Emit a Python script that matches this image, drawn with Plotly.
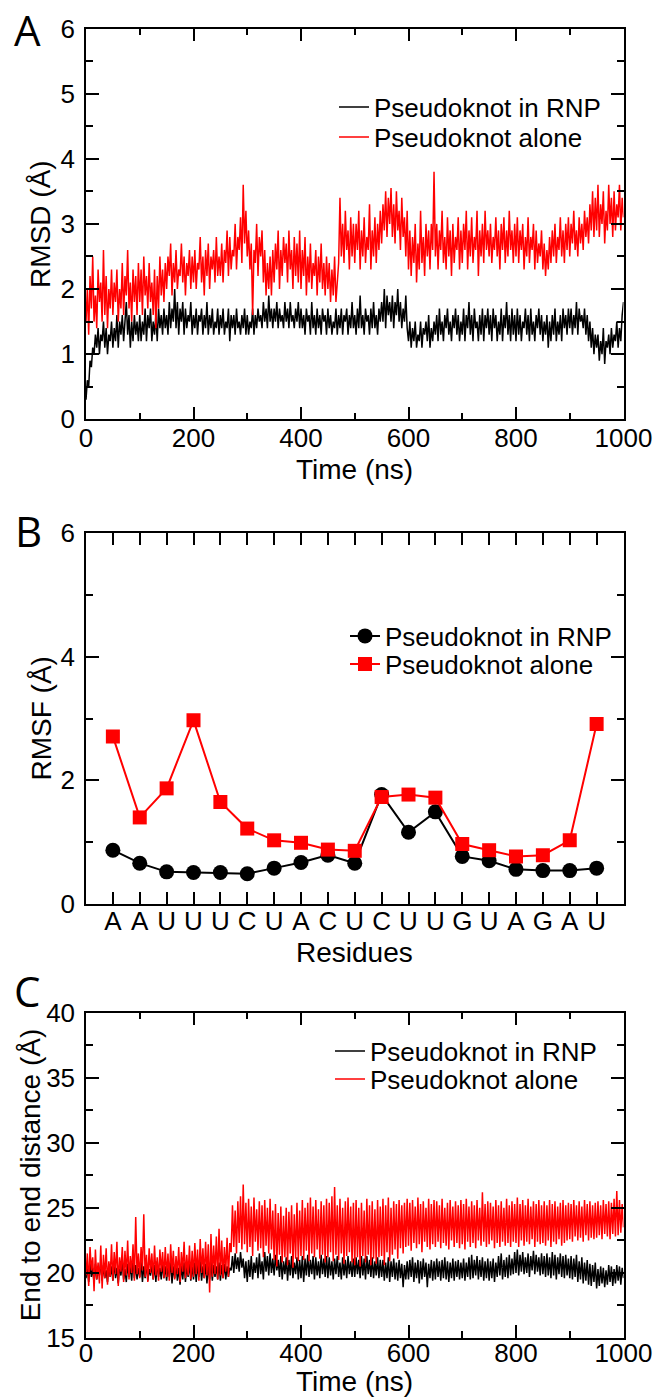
import plotly.graph_objects as go

# ---------------- data ----------------
residues = ["A", "A", "U", "U", "U", "C", "U", "A", "C", "U",
            "C", "U", "U", "G", "U", "A", "G", "A", "U"]
residue_index = list(range(1, len(residues) + 1))

rmsf_rnp = [0.87, 0.66, 0.52, 0.51, 0.51, 0.49, 0.58, 0.67, 0.79, 0.66,
            1.77, 1.16, 1.49, 0.77, 0.70, 0.56, 0.54, 0.54, 0.58]
rmsf_alone = [2.71, 1.40, 1.87, 2.97, 1.65, 1.22, 1.03, 0.99, 0.88, 0.86,
              1.73, 1.77, 1.72, 0.97, 0.87, 0.77, 0.79, 1.03, 2.91]

TIME_STEP_NS = 2.5
N_FRAMES = 401
time_ns = [i * TIME_STEP_NS for i in range(N_FRAMES)]

rmsd_alone = [
    1.5, 2.0, 1.3, 2.2, 1.7, 2.5, 1.5, 1.9, 1.4, 2.3, 1.8, 2.1, 1.5, 2.6, 1.6, 2.2, 1.4, 2.0, 1.7, 2.3,
    1.6, 2.1, 1.8, 2.3, 1.5, 2.0, 1.7, 2.4, 1.6, 2.2, 1.9, 2.6, 1.7, 2.1, 1.5, 2.3, 1.8, 2.2, 1.6, 2.4,
    1.8, 2.3, 1.6, 2.5, 1.9, 2.2, 1.7, 2.4, 1.8, 2.1, 1.6, 2.3, 1.4, 2.2, 1.7, 2.5, 1.9, 2.3, 1.8, 2.4,
    2.0, 2.5, 2.2, 2.7, 1.9, 2.4, 2.1, 2.6, 2.0, 2.3, 2.2, 2.7, 2.1, 2.5, 1.9, 2.4, 2.2, 2.6, 2.0, 2.5,
    2.1, 2.6, 2.0, 2.4, 2.3, 2.8, 2.1, 2.5, 1.9, 2.6, 2.2, 2.7, 2.0, 2.5, 2.3, 2.6, 2.1, 2.8, 2.2, 2.5,
    2.2, 2.7, 2.1, 2.6, 2.4, 2.9, 2.2, 2.8, 2.3, 2.6, 2.5, 3.0, 2.3, 2.8, 2.6, 3.1, 2.4, 3.6, 2.7, 3.2,
    2.5, 2.9, 2.3, 2.7, 1.6, 2.6, 2.4, 3.0, 2.2, 2.8, 2.5, 2.9, 2.1, 2.6, 1.9, 2.4, 2.0, 2.5, 1.9, 2.6,
    2.1, 2.7, 2.3, 2.9, 2.0, 2.6, 2.2, 2.8, 2.4, 2.7, 2.1, 2.9, 2.3, 2.6, 2.0, 2.8, 2.2, 2.7, 2.1, 2.9,
    2.0, 2.6, 2.2, 2.8, 1.9, 2.5, 2.1, 2.7, 2.0, 2.4, 2.2, 2.6, 1.9, 2.5, 2.1, 2.7, 2.0, 2.4, 1.9, 2.5,
    2.0, 2.4, 1.8, 2.3, 1.9, 2.5, 1.8, 2.2, 2.4, 3.4, 2.5, 3.0, 2.4, 3.2, 2.6, 2.9, 2.3, 3.1, 2.5, 3.0,
    2.4, 3.0, 2.6, 3.2, 2.3, 2.9, 2.5, 3.1, 2.4, 2.8, 2.6, 3.3, 2.3, 2.9, 2.5, 3.1, 2.4, 3.0, 2.6, 3.2,
    2.7, 3.3, 2.9, 3.5, 2.8, 3.4, 3.0, 3.55, 2.8, 3.3, 2.7, 3.5, 2.9, 3.2, 2.6, 3.4, 2.8, 3.1, 2.5, 3.2,
    2.3, 2.9, 2.2, 2.8, 2.4, 3.0, 2.1, 2.7, 2.3, 3.2, 2.4, 2.8, 2.2, 3.0, 2.5, 2.9, 2.3, 3.0, 2.6, 3.8,
    2.5, 3.0, 2.3, 2.9, 2.6, 3.2, 2.4, 2.8, 2.3, 3.1, 2.5, 2.9, 2.2, 3.0, 2.4, 2.8, 2.6, 3.1, 2.3, 2.9,
    2.4, 3.0, 2.6, 3.2, 2.3, 2.9, 2.5, 3.1, 2.4, 2.8, 2.6, 3.2, 2.2, 2.9, 2.5, 3.0, 2.4, 3.2, 2.6, 2.9,
    2.5, 3.0, 2.4, 2.8, 2.6, 3.1, 2.5, 2.9, 2.3, 3.0, 2.6, 3.1, 2.4, 2.9, 2.5, 3.2, 2.6, 2.9, 2.4, 3.0,
    2.5, 3.1, 2.4, 2.9, 2.6, 3.0, 2.3, 2.8, 2.5, 3.1, 2.4, 2.8, 2.6, 3.0, 2.3, 2.9, 2.4, 2.7, 2.5, 2.9,
    2.3, 2.7, 2.2, 2.6, 2.3, 2.8, 2.4, 2.9, 2.5, 3.0, 2.4, 2.8, 2.6, 3.1, 2.5, 2.9, 2.4, 3.0, 2.6, 3.1,
    2.5, 3.0, 2.7, 3.2, 2.6, 2.9, 2.5, 3.1, 2.7, 3.0, 2.6, 3.2, 2.8, 3.1, 2.7, 3.3, 2.9, 3.5, 2.8, 3.4,
    2.9, 3.6, 2.8, 3.3, 3.0, 3.5, 2.7, 3.2, 2.9, 3.6, 3.0, 3.4, 2.8, 3.5, 2.9, 3.3, 3.1, 3.6, 2.9, 3.4,
    3.1,
]

rmsd_rnp = [
    0.3, 0.6, 0.5, 0.9, 0.8, 1.1, 1.0, 1.3, 1.1, 1.4, 1.0, 1.3, 1.2, 1.5, 1.1, 1.4, 1.0, 1.3, 1.2, 1.5,
    1.1, 1.4, 1.2, 1.6, 1.1, 1.5, 1.3, 1.6, 1.2, 1.5, 1.8, 1.3, 1.6, 1.1, 1.5, 1.2, 1.6, 1.3, 1.5, 1.2,
    1.6, 1.2, 1.5, 1.3, 1.7, 1.2, 1.6, 1.4, 1.7, 1.2, 1.5, 1.3, 1.6, 1.2, 1.7, 1.4, 1.6, 1.3, 1.7, 1.4,
    1.6, 1.3, 1.8, 1.4, 1.7, 1.5, 2.0, 1.4, 1.8, 1.3, 1.7, 1.5, 1.8, 1.3, 1.7, 1.4, 1.6, 1.5, 1.8, 1.3,
    1.6, 1.4, 1.7, 1.3, 1.6, 1.5, 1.7, 1.3, 1.6, 1.4, 1.8, 1.3, 1.6, 1.4, 1.7, 1.3, 1.5, 1.4, 1.7, 1.3,
    1.6, 1.4, 1.7, 1.3, 1.5, 1.4, 1.7, 1.2, 1.6, 1.4, 1.6, 1.3, 1.7, 1.4, 1.5, 1.3, 1.6, 1.4, 1.7, 1.3,
    1.6, 1.3, 1.5, 1.4, 1.7, 1.3, 1.6, 1.4, 1.7, 1.5, 1.6, 1.4, 1.8, 1.5, 1.7, 1.4, 1.9, 1.5, 1.7, 1.4,
    1.7, 1.5, 1.8, 1.4, 1.7, 1.5, 1.6, 1.4, 1.8, 1.5, 1.7, 1.4, 1.8, 1.5, 1.6, 1.4, 1.7, 1.5, 1.8, 1.4,
    1.7, 1.4, 1.6, 1.3, 1.7, 1.5, 1.6, 1.3, 1.8, 1.4, 1.6, 1.3, 1.7, 1.4, 1.6, 1.3, 1.7, 1.5, 1.6, 1.3,
    1.7, 1.4, 1.6, 1.3, 1.5, 1.4, 1.7, 1.3, 1.6, 1.4, 1.7, 1.3, 1.6, 1.5, 1.7, 1.3, 1.6, 1.4, 1.8, 1.4,
    1.6, 1.3, 1.7, 1.4, 1.9, 1.4, 1.6, 1.3, 1.7, 1.5, 1.6, 1.3, 1.7, 1.4, 1.8, 1.4, 1.6, 1.3, 1.7, 1.5,
    1.8, 1.5, 2.0, 1.4, 1.9, 1.6, 1.8, 1.5, 1.9, 1.4, 1.8, 1.6, 2.0, 1.5, 1.8, 1.4, 1.7, 1.5, 1.9, 1.4,
    1.2, 1.5, 1.1, 1.4, 1.2, 1.5, 1.1, 1.3, 1.2, 1.5, 1.1, 1.4, 1.3, 1.5, 1.2, 1.6, 1.1, 1.4, 1.2, 1.5,
    1.3, 1.6, 1.2, 1.7, 1.3, 1.5, 1.2, 1.6, 1.4, 1.7, 1.3, 1.5, 1.2, 1.6, 1.4, 1.7, 1.3, 1.6, 1.2, 1.5,
    1.3, 1.7, 1.2, 1.6, 1.4, 1.8, 1.3, 1.6, 1.2, 1.7, 1.4, 1.5, 1.2, 1.6, 1.3, 1.7, 1.2, 1.6, 1.4, 1.7,
    1.3, 1.6, 1.2, 1.7, 1.4, 1.6, 1.2, 1.5, 1.3, 1.7, 1.2, 1.6, 1.4, 1.8, 1.3, 1.6, 1.2, 1.7, 1.3, 1.6,
    1.2, 1.7, 1.3, 1.6, 1.2, 1.5, 1.4, 1.7, 1.3, 1.6, 1.2, 1.7, 1.3, 1.5, 1.2, 1.6, 1.4, 1.7, 1.3, 1.6,
    1.2, 1.5, 1.3, 1.6, 1.1, 1.5, 1.2, 1.6, 1.3, 1.7, 1.2, 1.5, 1.3, 1.6, 1.2, 1.7, 1.4, 1.6, 1.3, 1.7,
    1.4, 1.7, 1.3, 1.6, 1.4, 1.8, 1.3, 1.7, 1.5, 1.6, 1.4, 1.7, 1.3, 1.6, 1.2, 1.5, 1.1, 1.4, 1.0, 1.3,
    1.1, 1.3, 0.9, 1.2, 1.0, 1.4, 0.85, 1.2, 1.1, 1.3, 1.0, 1.4, 1.1, 1.3, 1.2, 1.5, 1.1, 1.4, 1.2, 1.6,
    1.8,
]

e2e_alone = [
    19.8, 21.5, 19.0, 22.0, 20.2, 21.2, 18.6, 21.8, 19.5, 20.8, 19.2, 22.1, 18.8, 21.4, 19.6, 21.9, 19.1, 20.9, 19.7, 22.2,
    19.4, 21.6, 19.9, 22.4, 19.0, 21.2, 20.1, 22.0, 19.3, 21.7, 19.8, 22.5, 19.5, 21.3, 20.0, 22.2, 19.4, 24.3, 19.9, 21.5,
    19.6, 22.0, 20.2, 24.5, 19.7, 21.4, 19.3, 21.9, 20.0, 21.5, 19.5, 22.1, 19.8, 21.2, 19.4, 21.8, 20.1, 21.6, 19.6, 22.0,
    19.7, 21.5, 19.4, 22.2, 20.0, 21.7, 19.5, 21.3, 19.9, 22.0, 19.3, 21.6, 20.1, 22.4, 19.6, 21.4, 19.8, 22.1, 19.5, 21.7,
    19.7, 22.3, 19.9, 21.8, 19.4, 22.6, 20.0, 21.9, 19.6, 22.4, 19.8, 22.2, 18.5, 23.0, 19.7, 22.1, 19.9, 22.8, 19.5, 23.4,
    19.8, 22.5, 19.6, 22.0, 20.1, 22.7, 19.7, 22.3, 21.6, 25.2, 22.0, 24.8, 21.5, 25.5, 22.3, 25.9, 21.8, 26.8, 22.2, 25.4,
    21.6, 25.7, 22.0, 25.1, 21.3, 25.8, 22.4, 24.9, 21.7, 25.5, 21.9, 25.2, 21.2, 25.6, 22.1, 25.0, 21.5, 25.7, 21.8, 24.8,
    21.0, 25.3, 20.5, 24.6, 21.4, 25.1, 20.8, 24.4, 21.2, 25.0, 20.6, 24.7, 21.5, 25.2, 20.4, 24.5, 21.1, 25.4, 20.9, 24.8,
    21.3, 25.6, 21.0, 25.0, 21.7, 25.4, 20.9, 25.8, 21.5, 25.1, 21.2, 25.6, 21.8, 24.9, 21.1, 25.5, 21.4, 25.2, 20.8, 25.7,
    21.2, 25.4, 21.6, 25.9, 20.9, 26.6, 21.4, 25.2, 21.0, 25.7, 21.5, 25.0, 20.7, 25.5, 21.3, 25.8, 21.6, 25.1, 20.8, 25.4,
    20.6, 25.6, 21.2, 25.0, 20.5, 25.4, 21.3, 24.8, 20.8, 25.7, 21.4, 25.2, 20.6, 25.5, 21.1, 24.9, 20.7, 25.6, 21.2, 25.1,
    21.3, 25.7, 20.6, 25.2, 21.6, 25.8, 20.9, 25.0, 21.4, 25.5, 21.8, 25.3, 21.1, 25.6, 21.9, 25.2, 21.5, 25.4, 22.0, 25.7,
    22.1, 25.4, 21.7, 25.6, 22.3, 25.1, 21.9, 25.8, 22.2, 25.3, 21.6, 25.5, 22.4, 25.0, 22.0, 25.7, 21.8, 25.3, 22.2, 25.6,
    22.0, 25.5, 22.4, 25.2, 21.9, 25.7, 22.3, 25.0, 22.1, 25.4, 21.8, 25.6, 22.5, 25.1, 22.0, 25.5, 22.3, 25.2, 21.9, 25.6,
    22.2, 25.3, 21.8, 25.7, 22.4, 25.1, 22.0, 25.5, 22.3, 25.2, 21.9, 25.6, 22.5, 25.0, 22.1, 26.2, 22.4, 25.3, 22.0, 25.5,
    22.2, 25.4, 22.5, 25.1, 21.9, 25.6, 22.3, 25.2, 22.0, 25.5, 22.4, 25.0, 22.1, 25.7, 22.3, 25.2, 22.0, 25.5, 22.4, 25.3,
    22.3, 25.8, 22.0, 25.3, 22.5, 25.6, 22.1, 25.2, 22.4, 25.7, 22.2, 25.1, 22.6, 25.5, 22.0, 25.3, 22.4, 25.6, 22.2, 25.2,
    22.3, 25.5, 22.1, 25.2, 22.5, 25.6, 22.0, 25.3, 22.4, 25.5, 22.2, 25.1, 22.6, 25.4, 22.1, 25.6, 22.3, 25.2, 22.5, 25.4,
    22.6, 25.3, 22.4, 25.6, 22.8, 25.2, 22.5, 25.5, 22.7, 25.1, 22.4, 25.6, 22.9, 25.3, 22.5, 25.5, 22.7, 25.2, 22.6, 25.4,
    22.7, 25.5, 22.9, 25.2, 22.6, 25.6, 23.0, 25.3, 22.8, 25.5, 22.6, 25.4, 23.0, 25.7, 22.8, 26.3, 22.9, 25.6, 23.1, 25.3,
    23.5,
]

e2e_rnp = [
    19.6, 20.5, 19.3, 20.8, 19.7, 20.4, 19.2, 20.7, 19.5, 20.3, 19.8, 20.9, 19.4, 20.6, 19.6, 20.2, 19.3, 20.7, 19.7, 20.5,
    19.4, 20.8, 19.6, 20.4, 19.2, 20.6, 19.8, 21.0, 19.5, 20.3, 19.3, 20.7, 19.7, 20.5, 19.4, 21.1, 19.6, 20.6, 19.5, 20.4,
    19.7, 20.9, 19.3, 20.5, 19.6, 20.8, 19.4, 20.3, 19.8, 20.7, 19.5, 20.6, 19.3, 20.9, 19.7, 20.4, 19.5, 20.7, 19.6, 20.5,
    19.4, 20.6, 19.7, 20.9, 19.2, 20.5, 19.6, 20.8, 19.4, 20.4, 19.1, 20.6, 19.5, 20.8, 19.3, 20.5, 19.7, 20.7, 19.4, 20.6,
    19.5, 20.8, 19.3, 20.6, 19.7, 20.9, 19.4, 20.5, 19.6, 20.7, 19.2, 20.6, 19.5, 20.9, 19.4, 20.6, 19.7, 20.5, 19.5, 20.8,
    19.4, 20.6, 19.6, 20.7, 19.5, 20.5, 19.7, 20.4, 20.2, 21.3, 20.0, 21.5, 20.3, 21.2, 20.1, 21.6, 20.4, 21.1, 19.6, 20.9,
    19.3, 21.0, 19.7, 21.3, 19.5, 20.8, 20.0, 21.2, 19.6, 21.5, 19.9, 20.9, 19.5, 21.6, 20.1, 21.3, 19.8, 21.5, 20.0, 21.1,
    19.8, 21.4, 20.2, 21.0, 19.7, 21.3, 19.5, 20.9, 19.9, 21.2, 19.4, 21.0, 19.8, 21.3, 19.6, 20.8, 19.9, 21.2, 19.5, 21.0,
    19.6, 21.3, 19.3, 21.1, 19.8, 21.4, 19.7, 21.0, 19.9, 21.3, 19.5, 21.2, 19.8, 20.9, 19.6, 21.4, 19.9, 21.1, 19.7, 21.3,
    19.6, 21.2, 19.8, 20.9, 19.5, 21.1, 19.9, 21.3, 19.7, 20.8, 19.5, 21.2, 19.8, 21.0, 19.6, 21.3, 19.9, 20.9, 19.7, 21.1,
    19.7, 21.2, 19.9, 21.0, 19.6, 21.3, 19.8, 21.1, 19.5, 21.3, 19.9, 21.0, 19.7, 21.2, 19.6, 20.9, 19.8, 21.2, 19.6, 21.0,
    19.7, 21.0, 19.4, 20.8, 19.6, 21.2, 19.3, 20.9, 19.7, 21.1, 19.5, 20.8, 19.4, 21.0, 19.6, 20.7, 18.9, 20.6, 19.5, 20.9,
    19.5, 21.0, 19.7, 21.2, 19.3, 20.8, 19.6, 21.0, 19.2, 20.9, 19.5, 21.1, 19.7, 20.8, 18.9, 20.7, 19.6, 21.0, 19.4, 20.9,
    19.5, 21.1, 19.7, 20.9, 19.4, 21.0, 19.6, 21.2, 19.5, 20.9, 19.3, 20.8, 19.6, 21.1, 19.4, 20.9, 19.7, 21.0, 19.5, 20.8,
    19.6, 21.1, 19.4, 20.8, 19.7, 21.2, 19.5, 21.4, 19.6, 21.0, 19.8, 21.3, 19.5, 21.0, 19.7, 21.2, 19.4, 20.9, 19.6, 21.1,
    19.4, 20.9, 19.6, 21.1, 19.3, 20.8, 19.7, 21.3, 19.8, 21.5, 19.5, 21.0, 19.7, 21.2, 19.6, 21.4, 19.8, 21.1, 19.9, 21.6,
    20.0, 21.8, 19.8, 21.4, 20.1, 21.6, 19.9, 21.2, 20.0, 21.5, 19.7, 21.3, 20.2, 21.7, 19.9, 21.4, 20.1, 21.2, 19.8, 21.5,
    19.9, 21.3, 19.7, 21.5, 19.8, 21.2, 19.6, 21.6, 19.8, 21.4, 19.5, 21.2, 19.9, 21.5, 19.7, 21.3, 19.6, 21.4, 19.8, 21.1,
    19.6, 21.3, 19.5, 21.1, 19.7, 21.4, 19.3, 20.9, 19.5, 21.2, 19.2, 20.8, 19.4, 21.0, 19.1, 20.7, 19.0, 20.6, 19.3, 20.8,
    18.8, 20.3, 19.0, 20.5, 19.2, 20.4, 18.9, 20.2, 19.1, 20.6, 19.3, 20.5, 19.0, 20.3, 19.2, 20.6, 19.4, 20.5, 19.1, 20.4,
    19.6,
]

for _s in (rmsd_alone, rmsd_rnp, e2e_alone, e2e_rnp):
    assert len(_s) == N_FRAMES, len(_s)

# ---------------- layout helpers ----------------
W, H = 657, 1399
FONT = "Liberation Sans, Arial, sans-serif"
TICK_FONT = dict(family=FONT, size=26, color="black")
TITLE_FONT = dict(family=FONT, size=28, color="black")
LEG_FONT = dict(family=FONT, size=26, color="black")
LETTER_FONT = dict(family="Open Sans", size=42, color="black")


def fx(p):
    return p / W


def fy(p):
    return 1 - p / H


X_DOM = [fx(86), fx(623.5)]
A_DOM = [fy(419.3), fy(28.5)]
B_DOM = [fy(904), fy(533)]
C_DOM = [fy(1338), fy(1012.7)]

axis_common = dict(
    showline=True, linecolor="black", linewidth=1.5, mirror="ticks",
    ticks="inside", tickcolor="black", tickwidth=1.5, ticklen=13,
    showgrid=False, zeroline=False, tickfont=TICK_FONT, automargin=False,
)


def minor(dt):
    return dict(dtick=dt, ticks="inside", ticklen=7, tickcolor="black",
                tickwidth=1.5, showgrid=False)


LW = 1.5
fig = go.Figure()

# Panel A
fig.add_trace(go.Scatter(x=time_ns, y=rmsd_rnp, mode="lines", name="Pseudoknot in RNP",
                         line=dict(color="black", width=LW), xaxis="x", yaxis="y",
                         legend="legend", showlegend=True))
fig.add_trace(go.Scatter(x=time_ns, y=rmsd_alone, mode="lines", name="Pseudoknot alone",
                         line=dict(color="#ff0000", width=LW), xaxis="x", yaxis="y",
                         legend="legend2", showlegend=True))
# Panel B
fig.add_trace(go.Scatter(x=residue_index, y=rmsf_rnp, mode="lines+markers",
                         name="Pseudoknot in RNP",
                         line=dict(color="black", width=2),
                         marker=dict(symbol="circle", size=15, color="black"),
                         xaxis="x2", yaxis="y2", legend="legend3", showlegend=True))
fig.add_trace(go.Scatter(x=residue_index, y=rmsf_alone, mode="lines+markers",
                         name="Pseudoknot alone",
                         line=dict(color="#ff0000", width=2),
                         marker=dict(symbol="square", size=14, color="#ff0000"),
                         xaxis="x2", yaxis="y2", legend="legend4", showlegend=True))
# Panel C
fig.add_trace(go.Scatter(x=time_ns, y=e2e_rnp, mode="lines", name="Pseudoknot in RNP",
                         line=dict(color="black", width=LW), xaxis="x3", yaxis="y3",
                         legend="legend5", showlegend=True))
fig.add_trace(go.Scatter(x=time_ns, y=e2e_alone, mode="lines", name="Pseudoknot alone",
                         line=dict(color="#ff0000", width=LW), xaxis="x3", yaxis="y3",
                         legend="legend6", showlegend=True))

leg_common = dict(bgcolor="rgba(0,0,0,0)", borderwidth=0, font=LEG_FONT,
                  xanchor="left", yanchor="middle", orientation="v", visible=True)


def ann(text, xp, yp, font, angle=0):
    return dict(text=text, x=fx(xp), y=fy(yp), xref="paper", yref="paper",
                showarrow=False, font=font, textangle=angle,
                xanchor="center", yanchor="middle")


XC = (86 + 623.5) / 2

fig.update_layout(
    width=W, height=H,
    margin=dict(l=0, r=0, t=0, b=0),
    showlegend=True,
    paper_bgcolor="white", plot_bgcolor="white",
    font=dict(family=FONT, color="black"),
    xaxis=dict(axis_common, domain=X_DOM, anchor="y", range=[0, 1000], dtick=200,
               minor=minor(100), ticklabelstandoff=-5),
    yaxis=dict(axis_common, domain=A_DOM, anchor="x", range=[0, 6], dtick=1,
               minor=minor(0.5), ticklabelstandoff=4),
    xaxis2=dict(axis_common, domain=X_DOM, anchor="y2", range=[0, 20],
                tickmode="array", tickvals=residue_index, ticktext=residues, ticklen=12,
                ticklabelstandoff=-7),
    yaxis2=dict(axis_common, domain=B_DOM, anchor="x2", range=[0, 6], dtick=2,
                minor=minor(1), ticklabelstandoff=4),
    xaxis3=dict(axis_common, domain=X_DOM, anchor="y3", range=[0, 1000], dtick=200,
                minor=minor(100), ticklabelstandoff=-9),
    yaxis3=dict(axis_common, domain=C_DOM, anchor="x3", range=[15, 40], dtick=5,
                minor=minor(2.5), ticklabelstandoff=4),
    legend=dict(leg_common, x=fx(334), y=fy(107)),
    legend2=dict(leg_common, x=fx(334), y=fy(137)),
    legend3=dict(leg_common, x=fx(345), y=fy(636)),
    legend4=dict(leg_common, x=fx(345), y=fy(664)),
    legend5=dict(leg_common, x=fx(330), y=fy(1051)),
    legend6=dict(leg_common, x=fx(330), y=fy(1079)),
    annotations=[
        ann("A", 27, 29, LETTER_FONT),
        ann("B", 28, 530, LETTER_FONT),
        ann("C", 27, 990, LETTER_FONT),
        ann("Time (ns)", XC, 470, TITLE_FONT),
        ann("Residues", XC, 952, TITLE_FONT),
        ann("Time (ns)", XC, 1381, TITLE_FONT),
        ann("RMSD (Å)", 41, (28.5 + 419.3) / 2, TITLE_FONT, -90),
        ann("RMSF (Å)", 41, (533 + 904) / 2, TITLE_FONT, -90),
        ann("End to end distance (Å)", 30, (1012.7 + 1338) / 2, TITLE_FONT, -90),
    ],
)

fig.write_html("out.html")
